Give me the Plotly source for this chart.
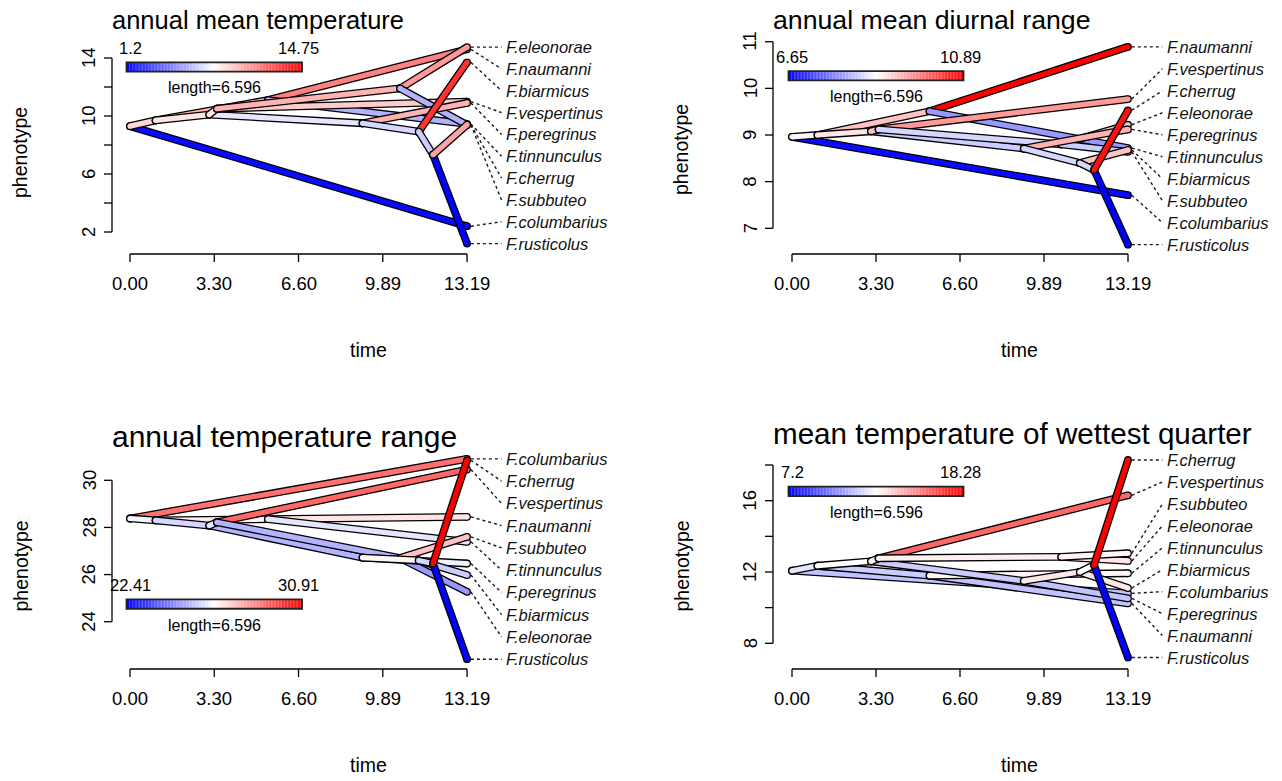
import plotly.graph_objects as go

W, H = 1282, 781
TREE_HEIGHT = 13.192
FONT = "Liberation Sans, Arial, sans-serif"

# ---- tree: tips, internal nodes, node ages and edges ----
tip_names = ["F.columbarius", "F.naumanni", "F.tinnunculus", "F.vespertinus", "F.eleonorae",
             "F.subbuteo", "F.peregrinus", "F.biarmicus", "F.rusticolus", "F.cherrug"]
node_names = ["root", "N1", "K", "N2", "N3", "H", "P", "B", "R"]
node_times = [0.0, 1.0, 5.4, 3.1, 3.4, 10.57, 9.1, 11.3, 11.86]
edge_parent = ["root", "root", "N1", "N1", "K", "K", "N2", "N2", "N3", "N3",
               "H", "H", "P", "P", "B", "B", "R", "R"]
edge_child = ["F.columbarius", "N1", "K", "N2", "F.naumanni", "F.tinnunculus", "P", "N3",
              "F.vespertinus", "H", "F.eleonorae", "F.subbuteo", "F.peregrinus", "B",
              "F.biarmicus", "R", "F.rusticolus", "F.cherrug"]

# ---- traits: tip values, ancestral node values, mapped branch values ----
amt_title = "annual mean temperature"
amt_tips = [2.4, 14.6, 9.45, 10.99, 14.75, 9.38, 10.9, 13.7, 1.2, 9.4]
amt_nodes = [9.3, 9.7, 11.1, 10.1, 10.5, 11.9, 9.5, 8.92, 7.33]
amt_branch = [1.47, 9.06, 10.01, 8.65, 11.36, 5.94, 7.30, 8.65, 9.33, 10.01,
              10.69, 5.94, 10.01, 6.89, 13.4, 6.62, 1.2, 10.41]

mdr_title = "annual mean diurnal range"
mdr_tips = [7.71, 10.89, 8.72, 9.77, 9.22, 8.64, 9.12, 8.68, 6.65, 9.53]
mdr_nodes = [8.96, 9.0, 9.51, 9.08, 9.12, 8.8, 8.71, 8.4, 8.25]
mdr_branch = [6.73, 8.85, 9.28, 8.98, 10.89, 7.92, 8.35, 9.28, 9.62, 8.43,
              9.28, 8.35, 9.41, 8.43, 9.28, 8.43, 6.65, 10.76]

atr_title = "annual temperature range"
atr_tips = [30.91, 28.45, 27.39, 30.46, 25.27, 27.6, 26.47, 25.98, 22.41, 30.85]
atr_nodes = [28.38, 28.3, 28.35, 28.08, 28.22, 26.7, 26.72, 26.6, 26.47]
atr_branch = [29.04, 26.49, 26.92, 25.98, 27.09, 26.24, 25.39, 26.24, 29.21, 25.39,
              24.96, 27.68, 26.41, 26.83, 25.81, 25.98, 22.41, 30.91]

mtwq_title = "mean temperature of wettest quarter"
mtwq_tips = [10.8, 10.24, 11.93, 16.3, 12.62, 13.05, 10.52, 11.1, 7.2, 18.28]
mtwq_nodes = [12.07, 12.35, 11.8, 12.6, 12.77, 12.85, 11.5, 12.0, 12.39]
mtwq_branch = [11.41, 12.19, 11.63, 12.74, 11.41, 12.96, 11.63, 13.07, 16.06, 13.07,
               13.29, 12.96, 11.41, 13.29, 13.29, 12.74, 7.2, 18.28]

time_ticks = [TREE_HEIGHT * f for f in (0, 0.25, 0.5, 0.75, 1.0)]

# ---- panel geometry (pixels) ----
panels = [
    dict(title=amt_title, tips=amt_tips, nodes=amt_nodes, branch=amt_branch,
         x0=130, kx=25.55, yref=(14, 58.0), ky=14.5, box=(96, 36, 640, 266),
         xaxis_py=254, yaxis_px=112, yticks=[2, 4, 6, 8, 10, 12, 14], ylabels=[2, 6, 10, 14],
         title_py=20, title_size=25.5, bar_y=13.38),
    dict(title=mdr_title, tips=mdr_tips, nodes=mdr_nodes, branch=mdr_branch,
         x0=792, kx=25.47, yref=(11, 41.7), ky=46.65, box=(757, 30, 1282, 266),
         xaxis_py=254, yaxis_px=773, yticks=[7, 8, 9, 10, 11], ylabels=[7, 8, 9, 10, 11],
         title_py=20, title_size=26.7, bar_y=10.27),
    dict(title=atr_title, tips=atr_tips, nodes=atr_nodes, branch=atr_branch,
         x0=130, kx=25.55, yref=(30, 480.3), ky=23.57, box=(96, 445, 640, 684),
         xaxis_py=669, yaxis_px=112, yticks=[24, 26, 28, 30], ylabels=[24, 26, 28, 30],
         title_py=436, title_size=30.0, bar_y=24.75),
    dict(title=mtwq_title, tips=mtwq_tips, nodes=mtwq_nodes, branch=mtwq_branch,
         x0=792, kx=25.47, yref=(18, 465.0), ky=17.83, box=(757, 445, 1282, 684),
         xaxis_py=669, yaxis_px=773, yticks=[8, 10, 12, 14, 16, 18], ylabels=[8, 12, 16],
         title_py=433, title_size=29.6, bar_y=16.52),
]


def shade(f):
    """blue -> white -> red ramp"""
    f = min(max(f, 0.0), 1.0)
    if f < 0.5:
        c = int(round(255 * f * 2))
        return f"rgb({c},{c},255)"
    c = int(round(255 * (1 - f) * 2))
    return f"rgb(255,{c},{c})"


fig = go.Figure()
layout = dict(width=W, height=H, margin=dict(l=0, r=0, t=0, b=0), autosize=False,
              paper_bgcolor="white", plot_bgcolor="white", showlegend=False,
              font=dict(family=FONT, color="black"))
shapes, annotations = [], []


def paper(px, py):
    return px / W, 1 - py / H


for i, p in enumerate(panels):
    sfx = "" if i == 0 else str(i + 1)
    xa, ya = "x" + sfx, "y" + sfx
    left, top, right, bottom = p["box"]
    yv, ypx = p["yref"]

    def PX(t, p=p):
        return p["x0"] + t * p["kx"]

    def PY(v, p=p, yv=yv, ypx=ypx):
        return ypx + (yv - v) * p["ky"]

    layout["xaxis" + sfx] = dict(domain=[left / W, right / W],
                                 range=[(left - p["x0"]) / p["kx"], (right - p["x0"]) / p["kx"]],
                                 visible=False, fixedrange=True)
    layout["yaxis" + sfx] = dict(domain=[1 - bottom / H, 1 - top / H],
                                 range=[yv - (bottom - ypx) / p["ky"], yv - (top - ypx) / p["ky"]],
                                 visible=False, fixedrange=True)

    pos = {}
    for name, t, v in zip(node_names, node_times, p["nodes"]):
        pos[name] = (t, v)
    for name, v in zip(tip_names, p["tips"]):
        pos[name] = (TREE_HEIGHT, v)
    lo, hi = min(p["tips"]), max(p["tips"])

    # branches: black outline, then coloured core
    for par, ch, mv in zip(edge_parent, edge_child, p["branch"]):
        (t0, v0), (t1, v1) = pos[par], pos[ch]
        col = shade((mv - lo) / (hi - lo))
        fig.add_trace(go.Scatter(x=[t0, t1], y=[v0, v1], xaxis=xa, yaxis=ya, mode="lines+markers",
                                 line=dict(color="black", width=7.8),
                                 marker=dict(color="black", size=7.8, line=dict(width=0)),
                                 hoverinfo="skip"))
        fig.add_trace(go.Scatter(x=[t0, t1], y=[v0, v1], xaxis=xa, yaxis=ya, mode="lines+markers",
                                 line=dict(color=col, width=5.2),
                                 marker=dict(color=col, size=5.2, line=dict(width=0)),
                                 hoverinfo="skip"))

    # tip labels, spread evenly between the extreme tip values
    order = sorted(range(len(tip_names)), key=lambda k: -p["tips"][k])
    n = len(order)
    for rank, k in enumerate(order):
        ly = hi - (hi - lo) * rank / (n - 1)
        fig.add_trace(go.Scatter(x=[TREE_HEIGHT + 0.15, TREE_HEIGHT + 1.35], y=[p["tips"][k], ly],
                                 xaxis=xa, yaxis=ya, mode="lines",
                                 line=dict(color="#1a1a1a", width=1.4, dash="dot"),
                                 hoverinfo="skip"))
        annotations.append(dict(x=TREE_HEIGHT + 1.45, y=ly, xref=xa, yref=ya, showarrow=False,
                                text="<i>" + tip_names[k] + "</i>", xanchor="left", yanchor="middle",
                                font=dict(size=16.5, family=FONT, color="#111111")))

    # colour bar legend (bar spans half the tree height, with a small end cap)
    bar_x0, bar_len = 0.0, TREE_HEIGHT / 2
    cap = 3.5 / p["kx"]
    bh = 4.7 / p["ky"]
    nseg = 120
    bx0, bx1 = bar_x0 - cap, bar_x0 + bar_len + cap
    for s in range(nseg):
        shapes.append(dict(type="rect", xref=xa, yref=ya,
                           x0=bx0 + (bx1 - bx0) * s / nseg, x1=bx0 + (bx1 - bx0) * (s + 1.05) / nseg,
                           y0=p["bar_y"] - bh, y1=p["bar_y"] + bh,
                           fillcolor=shade((s + 0.5) / nseg), line=dict(width=0), layer="above"))
    shapes.append(dict(type="rect", xref=xa, yref=ya, x0=bx0, x1=bx1,
                       y0=p["bar_y"] - bh, y1=p["bar_y"] + bh,
                       line=dict(color="#222222", width=1.8), layer="above"))
    up = 19 / p["ky"]
    down = 21 / p["ky"]
    annotations.append(dict(x=bar_x0, y=p["bar_y"] + up, xref=xa, yref=ya, showarrow=False,
                            text=f"{lo:g}", xanchor="center", yanchor="middle",
                            font=dict(size=16.5, family=FONT)))
    annotations.append(dict(x=bar_x0 + bar_len, y=p["bar_y"] + up, xref=xa, yref=ya, showarrow=False,
                            text=f"{hi:g}", xanchor="center", yanchor="middle",
                            font=dict(size=16.5, family=FONT)))
    annotations.append(dict(x=bar_x0 + bar_len / 2, y=p["bar_y"] - down, xref=xa, yref=ya,
                            showarrow=False, text=f"length={TREE_HEIGHT / 2:.3f}",
                            xanchor="center", yanchor="middle", font=dict(size=16, family=FONT)))

    # x axis (time)
    ax_y = p["xaxis_py"]
    x_a, y_a = paper(PX(0), ax_y)
    x_b, _ = paper(PX(TREE_HEIGHT), ax_y)
    shapes.append(dict(type="line", xref="paper", yref="paper", x0=x_a, x1=x_b, y0=y_a, y1=y_a,
                       line=dict(color="black", width=1.3)))
    for t in time_ticks:
        tx, ty0 = paper(PX(t), ax_y)
        _, ty1 = paper(PX(t), ax_y + 8)
        shapes.append(dict(type="line", xref="paper", yref="paper", x0=tx, x1=tx, y0=ty0, y1=ty1,
                           line=dict(color="black", width=1.3)))
        _, tly = paper(0, ax_y + 29)
        annotations.append(dict(x=tx, y=tly, xref="paper", yref="paper", showarrow=False,
                                text=f"{t:.2f}", xanchor="center", yanchor="middle",
                                font=dict(size=18.5, family=FONT)))
    cx, cy = paper((left + 16 + right) / 2 - 8, ax_y + 96)
    annotations.append(dict(x=cx, y=cy, xref="paper", yref="paper", showarrow=False, text="time",
                            xanchor="center", yanchor="middle", font=dict(size=19.5, family=FONT)))

    # y axis (phenotype)
    yx = p["yaxis_px"]
    ax0, ay0 = paper(yx, PY(p["yticks"][0]))
    _, ay1 = paper(yx, PY(p["yticks"][-1]))
    shapes.append(dict(type="line", xref="paper", yref="paper", x0=ax0, x1=ax0, y0=ay0, y1=ay1,
                       line=dict(color="black", width=1.3)))
    for v in p["yticks"]:
        tx0, ty = paper(yx, PY(v))
        tx1, _ = paper(yx - 8, PY(v))
        shapes.append(dict(type="line", xref="paper", yref="paper", x0=tx0, x1=tx1, y0=ty, y1=ty,
                           line=dict(color="black", width=1.3)))
    for v in p["ylabels"]:
        lx, ly = paper(yx - 23, PY(v))
        annotations.append(dict(x=lx, y=ly, xref="paper", yref="paper", showarrow=False,
                                text=f"{v:g}", textangle=-90, xanchor="center", yanchor="middle",
                                font=dict(size=18.5, family=FONT)))
    phx, phy = paper(yx - 92, (top + bottom) / 2 + 2)
    annotations.append(dict(x=phx, y=phy, xref="paper", yref="paper", showarrow=False,
                            text="phenotype", textangle=-90, xanchor="center", yanchor="middle",
                            font=dict(size=19.5, family=FONT)))

    # panel title
    tx, ty = paper(yx - 2, p["title_py"])
    annotations.append(dict(x=tx, y=ty, xref="paper", yref="paper", showarrow=False,
                            text=p["title"], xanchor="left", yanchor="middle",
                            font=dict(size=p["title_size"], family=FONT)))

layout["shapes"] = shapes
layout["annotations"] = annotations
fig.update_layout(**layout)
fig.write_html("out.html")
